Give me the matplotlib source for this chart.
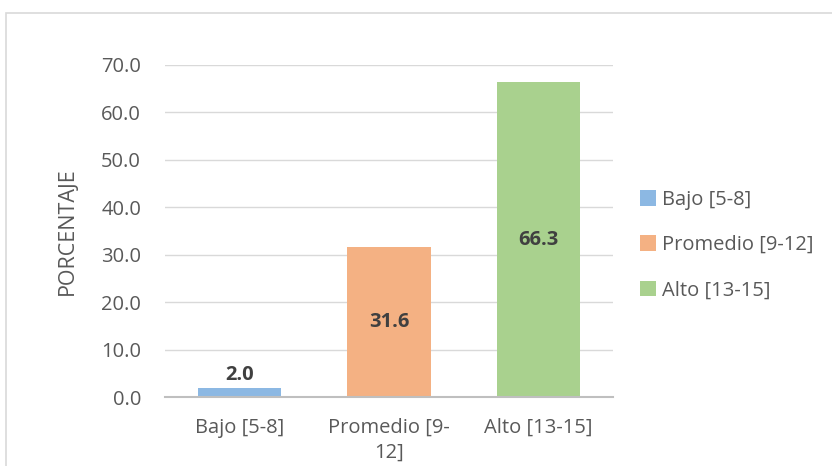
import matplotlib
matplotlib.use("Agg")
import matplotlib.pyplot as plt
from matplotlib.patches import Rectangle, Patch

plt.rcParams['font.family'] = ['Open Sans', 'DejaVu Sans']

# data
categorias = ["Bajo [5-8]", "Promedio [9-\n12]", "Alto [13-15]"]
leyenda = ["Bajo [5-8]", "Promedio [9-12]", "Alto [13-15]"]
porcentajes = [2.0, 31.6, 66.3]
colores = ["#8CB8E3", "#F4B183", "#A9D18E"]
yticks = [0, 10, 20, 30, 40, 50, 60, 70]

txt = "#595959"

fig = plt.figure(figsize=(8.32, 4.66), dpi=100)
ax = fig.add_axes([0.198, 0.148, 0.539, 0.713])

# outer chart frame (cut at right/bottom like the screenshot)
fig.patches.append(Rectangle((6/832, -0.2), 1.2, 1.2 - 13/466,
                             transform=fig.transFigure, fill=False,
                             edgecolor="#d9d9d9", linewidth=1.2))

x = range(len(porcentajes))
bars = ax.bar(x, porcentajes, 0.56, color=colores, zorder=3)

for b, v in zip(bars, porcentajes):
    if v < 10:
        ypos = v + 0.6
        va = "bottom"
    else:
        ypos = v / 2
        va = "center"
    ax.text(b.get_x() + b.get_width()/2, ypos, "%.1f" % v, ha="center", va=va,
            fontsize=14.5, fontweight="bold", color="#404040", zorder=4)

ax.set_xlim(-0.5, 2.5)
ax.set_ylim(0, 70)
ax.set_yticks(yticks)
ax.set_yticklabels(["%.1f" % t for t in yticks])
ax.set_xticks(list(x))
ax.set_xticklabels(categorias, linespacing=1.3)
ax.yaxis.grid(True, color="#d9d9d9", linewidth=1, zorder=0)
ax.tick_params(axis="both", length=0, labelsize=14.5, colors=txt)
ax.tick_params(axis="y", pad=17)
ax.tick_params(axis="x", pad=15)
for s in ["top", "right", "left"]:
    ax.spines[s].set_visible(False)
ax.spines["bottom"].set_color("#bfbfbf")
ax.spines["bottom"].set_linewidth(1.5)
ax.spines["bottom"].set_zorder(5)

ax.set_ylabel("PORCENTAJE", fontsize=15.5, color=txt, labelpad=17)

handles = [Patch(facecolor=c, edgecolor="none") for c in colores]
leg = fig.legend(handles, leyenda, loc="center left", bbox_to_anchor=(0.747, 0.474),
                 frameon=False, fontsize=14.5, labelspacing=1.25,
                 handlelength=0.8, handleheight=0.8, handletextpad=0.3)
for t in leg.get_texts():
    t.set_color(txt)

fig.savefig("out.png", dpi=100)
